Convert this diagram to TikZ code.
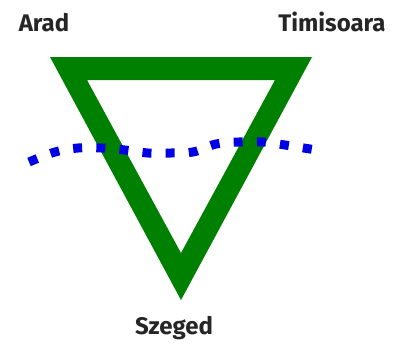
\documentclass[tikz,border=0pt]{standalone}
\usepackage{fontspec}
\setmainfont{Fira Sans}
\begin{document}
\begin{tikzpicture}[x=1pt,y=-1pt,
  city/.style={font=\fontsize{24}{28}\selectfont\bfseries, text=black!85, inner sep=0pt},
  border/.style={fill=green!50!black, even odd rule},
  river/.style={draw=blue!90!black, line width=9pt, dash pattern=on 9pt off 14.2pt, line cap=butt}]
\useasboundingbox (0,0) rectangle (396,343);
\fill[white] (0,0) rectangle (396,343);
\coordinate (A) at (50,57);
\coordinate (T) at (312,57);
\coordinate (S) at (181,300);
\coordinate (a) at (87,80);
\coordinate (t) at (275,80);
\coordinate (s) at (181,253);
\path[border] (A) -- (T) -- (S) -- cycle (a) -- (t) -- (s) -- cycle;
\draw[river] plot[smooth, tension=0.6] coordinates {(29,162) (55,152) (78,148) (102,148) (125,150) (148,153) (170,153) (193,152) (216,144) (239,142) (263,142) (285,145) (316,150)};
\node[city] (arad) at (44,23) {Arad};
\node[city] (tim) at (332,22) {Timisoara};
\node[city] (sze) at (174,328) {Szeged};
\end{tikzpicture}
\end{document}
